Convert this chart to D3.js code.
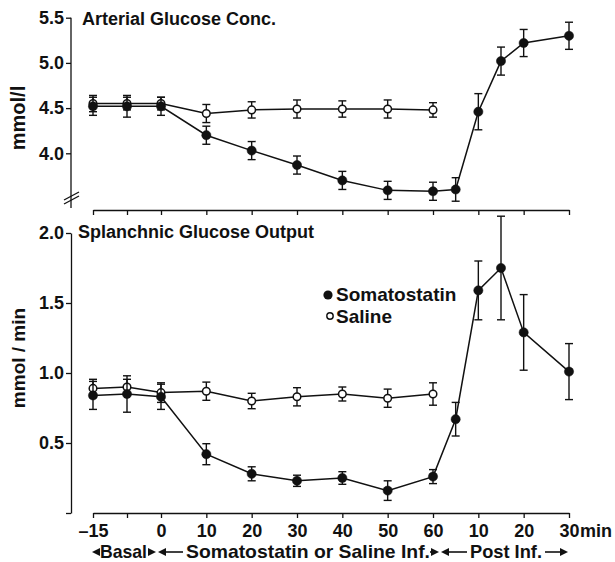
<!DOCTYPE html>
<html>
<head>
<meta charset="utf-8">
<script src="https://cdn.jsdelivr.net/npm/d3@7/dist/d3.min.js"></script>
<style>
body { margin: 0; background: #fff; }
text { font-family: "Liberation Sans", Arial, sans-serif; font-weight: bold; fill: #111; }
</style>
</head>
<body>
<svg id="chart" width="615" height="562"></svg>
<script>
// time points (min); 65..90 are post-infusion (5, 10, 15, 20, 30 min)
var somaTimes = [-15, -7.5, 0, 10, 20, 30, 40, 50, 60, 65, 70, 75, 80, 90];
var salineTimes = [-15, -7.5, 0, 10, 20, 30, 40, 50, 60];

// arterial glucose conc. (mmol/l)
var glucSoma = [4.52, 4.52, 4.52, 4.20, 4.03, 3.87, 3.70, 3.59, 3.58, 3.60, 4.46, 5.02, 5.22, 5.30];
var glucSomaErr = [0.1, 0.12, 0.1, 0.1, 0.1, 0.1, 0.1, 0.1, 0.1, 0.13, 0.2, 0.155, 0.15, 0.15];
var glucSaline = [4.55, 4.55, 4.55, 4.44, 4.48, 4.49, 4.49, 4.49, 4.48];
var glucSalineErr = [0.09, 0.07, 0.07, 0.1, 0.09, 0.1, 0.09, 0.1, 0.08];

// splanchnic glucose output (mmol/min)
var sgoSoma = [0.84, 0.85, 0.83, 0.42, 0.28, 0.23, 0.25, 0.16, 0.26, 0.67, 1.59, 1.75, 1.29, 1.01];
var sgoSomaErr = [0.1, 0.13, 0.09, 0.075, 0.05, 0.04, 0.045, 0.07, 0.05, 0.12, 0.21, 0.37, 0.27, 0.2];
var sgoSaline = [0.89, 0.9, 0.86, 0.87, 0.8, 0.83, 0.85, 0.82, 0.85];
var sgoSalineErr = [0.065, 0.055, 0.07, 0.065, 0.055, 0.065, 0.05, 0.065, 0.08];

var xTicks = [-15, -7.5, 0, 10, 20, 30, 40, 50, 60, 70, 80, 90];
var xTickLabels = ["\u201315", "", "0", "10", "20", "30", "40", "50", "60", "10", "20", "30"];
var glucTicks = [4.0, 4.5, 5.0, 5.5];
var sgoTicks = [0, 0.5, 1.0, 1.5, 2.0];

var svg = d3.select("#chart");

var x = d3.scaleLinear().domain([-15, 90]).range([93, 569]);
var yTop = d3.scaleLinear().domain([4.0, 5.5]).range([153.3, 17.7]);
var yBot = d3.scaleLinear().domain([0, 2.0]).range([513, 233]);

function styleAxis(g) {
    g.attr("font-family", null).attr("font-size", null);
    g.selectAll("line, path").attr("stroke", "#111").attr("stroke-width", 1.3);
    g.selectAll("text").style("font-size", "18px");
}

// ---- top panel axes
svg.append("g")
    .attr("transform", "translate(0,210)")
    .call(d3.axisBottom(x).tickValues(xTicks).tickSize(5).tickSizeOuter(0).tickFormat(""))
    .call(styleAxis);

var gyTop = svg.append("g")
    .attr("transform", "translate(71,0)")
    .call(d3.axisLeft(yTop).tickValues(glucTicks).tickSize(5).tickPadding(2).tickFormat(d3.format(".1f")))
    .call(styleAxis);
gyTop.select(".domain").remove();
svg.append("line")
    .attr("x1", 71).attr("x2", 71)
    .attr("y1", yTop(5.5)).attr("y2", 208)
    .attr("stroke", "#111").attr("stroke-width", 1.3);
// axis break marks
[0, 4].forEach(function (o) {
    svg.append("line")
        .attr("x1", 64).attr("y1", 200 + o)
        .attr("x2", 79).attr("y2", 192 + o)
        .attr("stroke", "#111").attr("stroke-width", 1.3);
});

// ---- bottom panel axes
svg.append("g")
    .attr("transform", "translate(0,513)")
    .call(d3.axisBottom(x).tickValues(xTicks).tickSize(5).tickSizeOuter(0).tickPadding(6)
        .tickFormat(function (d, i) { return xTickLabels[i]; }))
    .call(styleAxis);

svg.append("g")
    .attr("transform", "translate(71,0)")
    .call(d3.axisLeft(yBot).tickValues(sgoTicks).tickSize(5).tickSizeOuter(0).tickPadding(2)
        .tickFormat(function (d) { return d === 0 ? "" : d3.format(".1f")(d); }))
    .call(styleAxis);

svg.append("text")
    .attr("x", x(90) + 11).attr("y", 537)
    .style("font-size", "18px")
    .text("min");

// titles
svg.append("text").attr("x", 82).attr("y", 25).style("font-size", "18px")
    .text("Arterial Glucose Conc.");
svg.append("text").attr("x", 78).attr("y", 238).style("font-size", "18px")
    .text("Splanchnic Glucose Output");

// y labels
svg.append("text")
    .attr("transform", "translate(25,118) rotate(-90)")
    .attr("text-anchor", "middle")
    .style("font-size", "20px")
    .text("mmol/l");
svg.append("text")
    .attr("transform", "translate(25,358) rotate(-90)")
    .attr("text-anchor", "middle")
    .style("font-size", "19px")
    .text("mmol / min");

// ---- series
function drawSeries(times, vals, errs, y, filled) {
    var pts = times.map(function (t, i) { return { t: t, v: vals[i], e: errs[i] }; });
    var g = svg.append("g");
    g.append("path")
        .datum(pts)
        .attr("fill", "none")
        .attr("stroke", "#111")
        .attr("stroke-width", 1.5)
        .attr("d", d3.line().x(function (d) { return x(d.t); }).y(function (d) { return y(d.v); }));
    var eb = g.selectAll(".eb").data(pts).enter().append("g").attr("class", "eb");
    eb.append("line")
        .attr("x1", function (d) { return x(d.t); }).attr("x2", function (d) { return x(d.t); })
        .attr("y1", function (d) { return y(d.v - d.e); }).attr("y2", function (d) { return y(d.v + d.e); })
        .attr("stroke", "#111").attr("stroke-width", 1.4);
    [-1, 1].forEach(function (s) {
        eb.append("line")
            .attr("x1", function (d) { return x(d.t) - 4; }).attr("x2", function (d) { return x(d.t) + 4; })
            .attr("y1", function (d) { return y(d.v + s * d.e); }).attr("y2", function (d) { return y(d.v + s * d.e); })
            .attr("stroke", "#111").attr("stroke-width", 1.4);
    });
    g.selectAll("circle").data(pts).enter().append("circle")
        .attr("cx", function (d) { return x(d.t); })
        .attr("cy", function (d) { return y(d.v); })
        .attr("r", filled ? 4.6 : 3.8)
        .attr("fill", filled ? "#111" : "#fff")
        .attr("stroke", "#111")
        .attr("stroke-width", filled ? 0.5 : 1.5);
}

drawSeries(salineTimes, glucSaline, glucSalineErr, yTop, false);
drawSeries(somaTimes, glucSoma, glucSomaErr, yTop, true);
drawSeries(salineTimes, sgoSaline, sgoSalineErr, yBot, false);
drawSeries(somaTimes, sgoSoma, sgoSomaErr, yBot, true);

// legend
svg.append("circle").attr("cx", 328).attr("cy", 295).attr("r", 4.6).attr("fill", "#111");
svg.append("text").attr("x", 336).attr("y", 301).style("font-size", "19px").text("Somatostatin");
svg.append("circle").attr("cx", 330).attr("cy", 316).attr("r", 3.2)
    .attr("fill", "#fff").attr("stroke", "#111").attr("stroke-width", 1.4);
svg.append("text").attr("x", 336).attr("y", 323).style("font-size", "19px").text("Saline");

// ---- phase labels with arrows
var by = 558, ay = 552;
function arrowHead(xt, dir) {
    // dir = 1 points right, -1 points left
    svg.append("path")
        .attr("d", "M" + xt + "," + ay + "L" + (xt - dir * 8) + "," + (ay - 4) + "L" + (xt - dir * 8) + "," + (ay + 4) + "Z")
        .attr("fill", "#111");
}
function shaft(x1, x2) {
    svg.append("line").attr("x1", x1).attr("x2", x2).attr("y1", ay).attr("y2", ay)
        .attr("stroke", "#111").attr("stroke-width", 1.6);
}
function phaseText(x0, w, s) {
    svg.append("text").attr("x", x0).attr("y", by).style("font-size", "18.5px")
        .attr("textLength", w).attr("lengthAdjust", "spacingAndGlyphs").text(s);
}
arrowHead(92, -1);
phaseText(100, 47, "Basal");
arrowHead(156, 1);
arrowHead(158, -1);
shaft(164, 183);
phaseText(186, 244, "Somatostatin or Saline Inf.");
shaft(430, 434);
arrowHead(439, 1);
arrowHead(441, -1);
shaft(447, 467);
phaseText(470, 72, "Post Inf.");
shaft(545, 562);
arrowHead(568, 1);
</script>
</body>
</html>
